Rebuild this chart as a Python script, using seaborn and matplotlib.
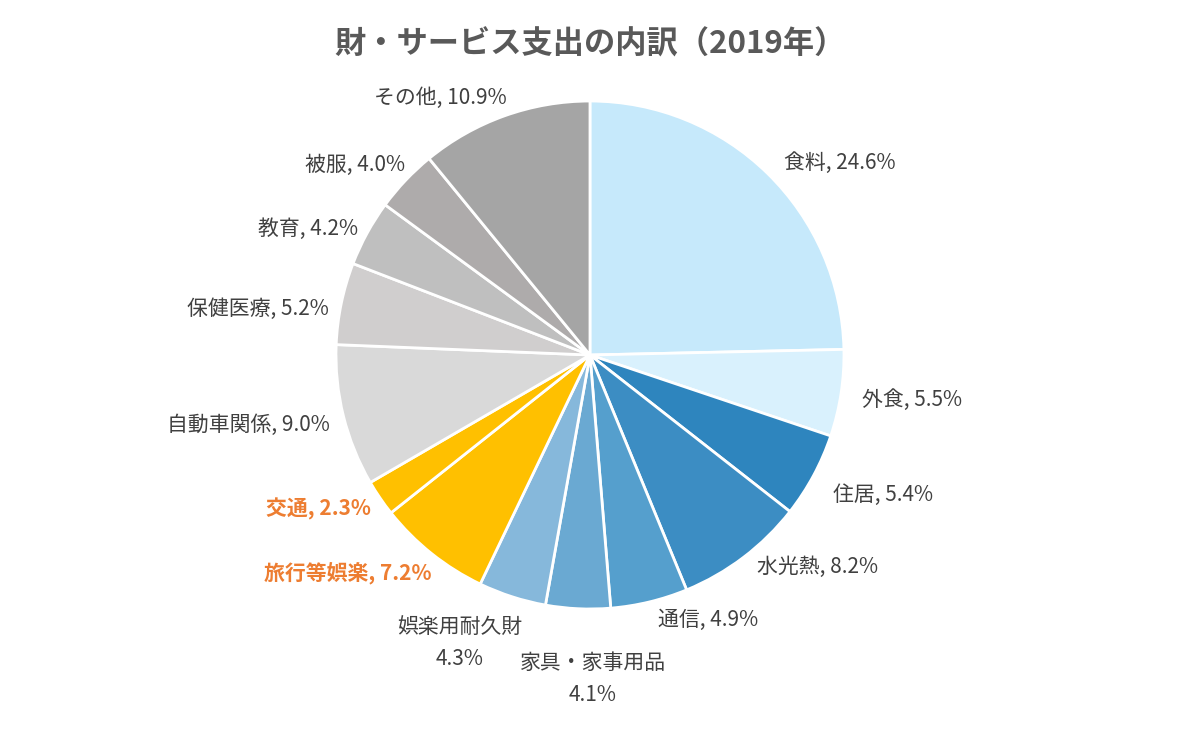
import matplotlib
matplotlib.use("Agg")
import matplotlib.pyplot as plt
import seaborn as sns

# data (share of spending, 2019)
categories = ["食料", "外食", "住居", "水光熱", "通信", "家具・家事用品", "娯楽用耐久財",
              "旅行等娯楽", "交通", "自動車関係", "保健医療", "教育", "被服", "その他"]
shares = [24.6, 5.5, 5.4, 8.2, 4.9, 4.1, 4.3, 7.2, 2.3, 9.0, 5.2, 4.2, 4.0, 10.9]
colors = ["#C6E9FB", "#D9F1FD", "#2E85BE", "#3C8DC3", "#559FCD", "#6AA9D2", "#86B8DB",
          "#FFC000", "#FFC000", "#D9D9D9", "#D0CECE", "#BFBFBF", "#AEABAB", "#A5A5A5"]
highlight = ["旅行等娯楽", "交通"]
two_line = ["家具・家事用品", "娯楽用耐久財"]

# label placement (in pie-radius units), like the hand-placed Excel labels
label_pos = [(0.984, 0.756), (1.268, -0.177), (1.154, -0.551), (0.898, -0.835),
             (0.465, -1.043), (0.012, -1.275), (-0.512, -1.134), (-0.953, -0.858),
             (-1.071, -0.606), (-1.343, -0.276), (-1.307, 0.181), (-1.110, 0.496),
             (-0.925, 0.748), (-0.591, 1.012)]

sns.set_theme(style="white")
plt.rcParams['font.family'] = ['Noto Sans CJK JP', 'DejaVu Sans']

fig = plt.figure(figsize=(12, 7.35), dpi=100)
ax = fig.add_axes([0.28, 0.1714, 0.4233, 0.6912])

ax.pie(shares, colors=colors, startangle=90, counterclock=False, radius=1,
       wedgeprops=dict(edgecolor="white", linewidth=2))
ax.set_xlim(-1, 1)
ax.set_ylim(-1, 1)
ax.set_aspect("equal")
ax.axis("off")

for name, val, (x, y) in zip(categories, shares, label_pos):
    if name in two_line:
        txt = f"{name}\n{val:.1f}%"
    else:
        txt = f"{name}, {val:.1f}%"
    if name in highlight:
        ax.text(x, y, txt, ha="center", va="center", fontsize=15,
                color="#ED7D31", fontweight="bold")
    else:
        ax.text(x, y, txt, ha="center", va="center", fontsize=15,
                color="#404040", linespacing=1.6)

fig.text(0.4917, 0.940, "財・サービス支出の内訳（2019年）", ha="center", va="center",
         fontsize=22.5, fontweight="bold", color="#595959")

fig.savefig("out.png", dpi=100, facecolor="white")
